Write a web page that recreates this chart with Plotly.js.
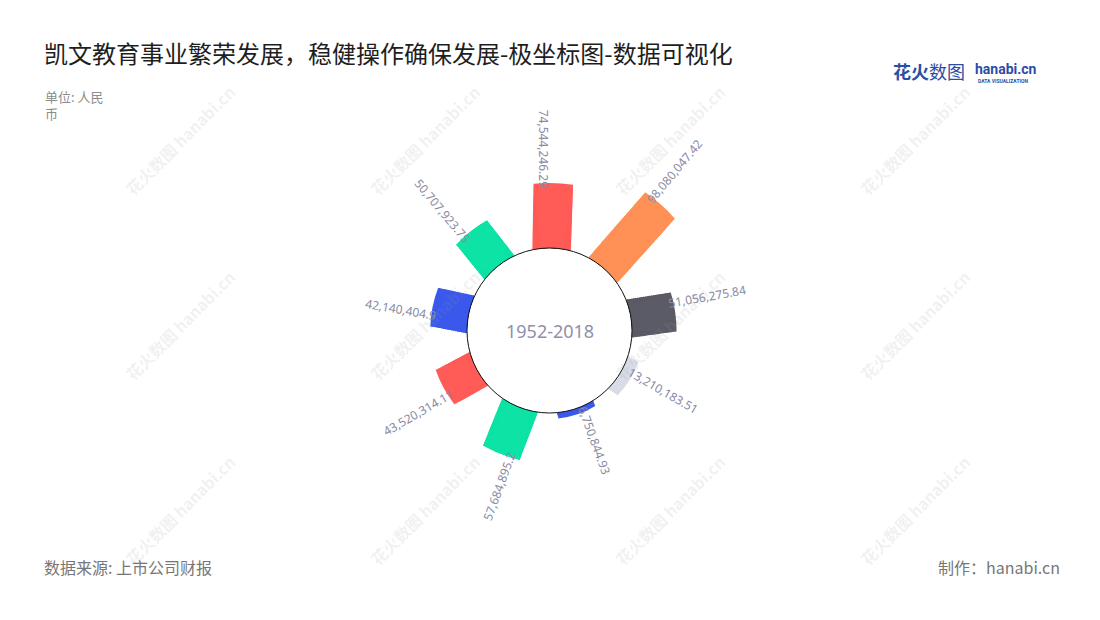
<!DOCTYPE html>
<html><head><meta charset="utf-8">
<script src="https://cdn.plot.ly/plotly-3.0.1.min.js"></script>
<style>html,body{margin:0;padding:0;background:#fff}#chart{width:1100px;height:620px}</style>
</head><body><div id="chart"></div>
<script>
// ---- data ----
const categories = ['2010','2011','2012','2013','2014','2015','2016','2017','2018'];
const values = [74544246.29, 98080047.42, 51056275.84, 13210183.51, 6750844.93, 57684895.2, 43520314.11, 42140404.9, 50707923.75];
const colors = ['#FF5B57','#FF9157','#5B5B67','#D7DCE6','#3A59EC','#0CE3A5','#FF5B57','#3A59EC','#0CE3A5'];
const centerLabel = '1952-2018';
const titleText = '凯文教育事业繁荣发展，稳健操作确保发展-极坐标图-数据可视化';
const unitText = '单位: 人民<br>币';
const sourceText = '数据来源: 上市公司财报';
const makerText = '制作：hanabi.cn';

// ---- geometry (layout) ----
const W = 1100, H = 620, CX = 549.5, CY = 330.5, R_OUT = 178.5, R_HOLE = 82.5, RMAX = 110e6;
const BAR_HALF_PX = 20;          // bars are drawn with a constant pixel width (rectangular look)
const BAR_SHIFT_DEG = 1.5;       // bars sit slightly clockwise of the category direction
const LABEL_SHIFT_DEG = -2;      // labels sit slightly counter-clockwise
const FONT = '"Noto Sans", "Noto Sans CJK SC", sans-serif';
const CJK = '"Noto Sans CJK SC", sans-serif';
const LABEL_COLOR = '#8a8aa2';
const n = categories.length;
const PX_PER_UNIT = (R_OUT - R_HOLE) / RMAX;
const SLOT_DEG = 360 / n;

// Each bar = nested polar bars sharing base 0, each narrowed so its outer edge has the
// same pixel width -> the union looks like a rectangle.
const bt = [], br = [], bw = [], bc = [];
values.forEach((v, i) => {
  const rEndPx = R_HOLE + v * PX_PER_UNIT;
  const steps = [];
  for (let p = R_HOLE + 2; p < rEndPx; p += 2) steps.push(p);
  steps.push(rEndPx);
  steps.forEach(p => {
    const deg = 2 * Math.atan(BAR_HALF_PX / p) * 180 / Math.PI;
    bt.push(categories[i]);
    br.push(p === rEndPx ? v : (p - R_HOLE) / PX_PER_UNIT);
    bw.push(deg / SLOT_DEG);
    bc.push(colors[i]);
  });
});

const trace = {
  type: 'barpolar',
  r: br,
  theta: bt,
  width: bw,
  marker: {color: bc, line: {width: 0}},
  hoverinfo: 'skip'
};

const annotations = [];
// value labels
const cv = document.createElement('canvas').getContext('2d');
cv.font = '12px "Noto Sans"';
values.forEach((v, i) => {
  const txt = v.toLocaleString('en-US', {maximumFractionDigits: 2});
  const w = cv.measureText(txt).width;
  const th = i * SLOT_DEG;
  const rad = (th + LABEL_SHIFT_DEG) * Math.PI / 180;
  const rEnd = R_HOLE + v * PX_PER_UNIT;
  const rc = rEnd - 5 + w / 2;
  const px = CX + rc * Math.sin(rad), py = CY - rc * Math.cos(rad);
  let ang = (th > 0 && th < 180) ? th - 90 : th - 270;
  if (ang < -180) ang += 360;
  annotations.push({xref: 'paper', yref: 'paper', x: px / W, y: 1 - py / H, xanchor: 'center', yanchor: 'middle',
    text: txt, textangle: ang, showarrow: false, font: {family: FONT, size: 12, color: LABEL_COLOR}});
});
// center label
annotations.push({xref: 'paper', yref: 'paper', x: CX / W, y: 1 - CY / H, xanchor: 'center', yanchor: 'middle',
  text: centerLabel, showarrow: false, font: {family: FONT, size: 18, color: '#9090a8'}});
// unit
annotations.push({xref: 'paper', yref: 'paper', x: 43 / W, y: 1 - 85 / H, xanchor: 'left', yanchor: 'top', align: 'left',
  text: unitText, showarrow: false, font: {family: CJK, size: 13, color: '#8c8c8c'}});
// source & maker
annotations.push({xref: 'paper', yref: 'paper', x: 42 / W, y: 1 - 567 / H, xanchor: 'left', yanchor: 'middle',
  text: sourceText, showarrow: false, font: {family: CJK, size: 16, color: '#777'}});
annotations.push({xref: 'paper', yref: 'paper', x: 1062 / W, y: 1 - 567 / H, xanchor: 'right', yanchor: 'middle',
  text: makerText, showarrow: false, font: {family: CJK, size: 16, color: '#777'}});
// logo
annotations.push({xref: 'paper', yref: 'paper', x: 891 / W, y: 1 - 71 / H, xanchor: 'left', yanchor: 'middle',
  text: '<b>花火</b>数图', showarrow: false, font: {family: CJK, size: 18, color: '#2C4DA6'}});
annotations.push({xref: 'paper', yref: 'paper', x: 973 / W, y: 1 - 69 / H, xanchor: 'left', yanchor: 'middle',
  text: '<b>hanabi.cn</b>', showarrow: false, font: {family: 'Roboto, sans-serif', size: 14, color: '#2C4DA6'}});
annotations.push({xref: 'paper', yref: 'paper', x: 976 / W, y: 1 - 81 / H, xanchor: 'left', yanchor: 'middle',
  text: '<b>DATA VISUALIZATION</b>', showarrow: false, font: {family: 'Roboto, sans-serif', size: 5, color: '#2C4DA6'}});
// watermarks
[180, 425, 670, 915].forEach(wx => {
  [140, 325, 510].forEach(wy => {
    annotations.push({xref: 'paper', yref: 'paper', x: wx / W, y: 1 - wy / H, xanchor: 'center', yanchor: 'middle',
      text: '<b>花火数图</b> <b>hanabi.cn</b>', textangle: -45, showarrow: false,
      font: {family: CJK, size: 16, color: 'rgba(150,150,150,0.14)'}});
  });
});

const layout = {
  width: W, height: H,
  margin: {l: 0, r: 0, t: 0, b: 0},
  paper_bgcolor: '#fff',
  showlegend: false,
  title: {text: titleText, x: 44 / W, xanchor: 'left', y: 1 - 55 / H, yanchor: 'middle',
    font: {family: CJK, size: 24, color: '#1e1e1e'}},
  polar: {
    domain: {x: [(CX - R_OUT) / W, (CX + R_OUT) / W], y: [1 - (CY + R_OUT) / H, 1 - (CY - R_OUT) / H]},
    hole: R_HOLE / R_OUT,
    bgcolor: 'rgba(0,0,0,0)',
    barmode: 'overlay',
    radialaxis: {visible: false, range: [0, RMAX]},
    angularaxis: {type: 'category', rotation: 90 - BAR_SHIFT_DEG, direction: 'clockwise', showline: false, showgrid: false,
      showticklabels: false, ticks: ''}
  },
  shapes: [{type: 'circle', xref: 'paper', yref: 'paper', layer: 'above',
    x0: (CX - R_HOLE) / W, x1: (CX + R_HOLE) / W, y0: 1 - (CY + R_HOLE) / H, y1: 1 - (CY - R_HOLE) / H,
    line: {color: '#111', width: 1}, fillcolor: 'rgba(0,0,0,0)'}],
  annotations: annotations
};

Plotly.newPlot('chart', [trace], layout, {displayModeBar: false, staticPlot: true});
</script></body></html>
